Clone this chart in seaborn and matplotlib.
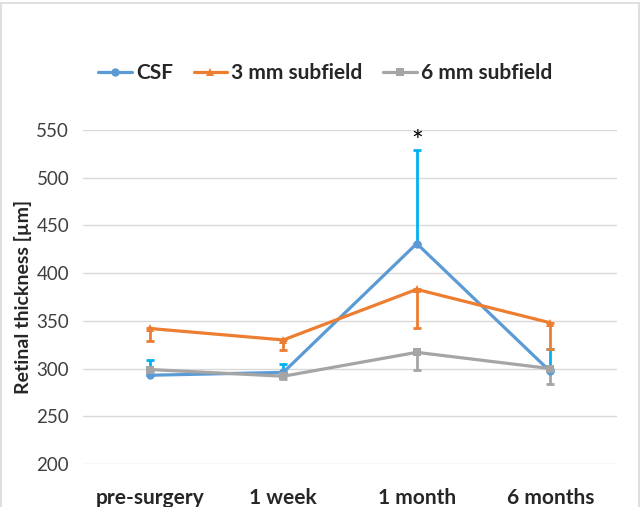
import numpy as np
import pandas as pd
import matplotlib
matplotlib.use("Agg")
import matplotlib.pyplot as plt
import seaborn as sns
from matplotlib.patches import Rectangle

# data
timepoints = ["pre-surgery", "1 week", "1 month", "6 months"]
csf = [293, 296, 431, 297]
mm3 = [342, 330, 383, 348]
mm6 = [299, 292, 317, 300]
csf_err_up = [16, 9, 98, 24]
mm3_err_down = [13, 11, 41, 28]
mm6_err_down = [3, 3, 19, 16]

series = ["CSF", "3 mm subfield", "6 mm subfield"]
colors = {"CSF": "#5B9BD5", "3 mm subfield": "#ED7D31", "6 mm subfield": "#A5A5A5"}
err_colors = {"CSF": "#00B0F0", "3 mm subfield": "#ED7D31", "6 mm subfield": "#A5A5A5"}
markers = {"CSF": "o", "3 mm subfield": "^", "6 mm subfield": "s"}

df = pd.DataFrame({
    "time": timepoints * 3,
    "thickness": csf + mm3 + mm6,
    "series": np.repeat(series, len(timepoints)),
})

sns.set_theme(style="white")
plt.rcParams['font.family'] = ['Lato', 'DejaVu Sans']

fig = plt.figure(figsize=(6.44, 5.07), dpi=100)
ax = fig.add_axes([0.129, 0.0848, 0.829, 0.6588])

# error bars first so lines sit on top
x = np.arange(len(timepoints))
ax.errorbar(x, csf, yerr=[np.zeros(4), csf_err_up], fmt="none",
            ecolor=err_colors["CSF"], elinewidth=2, capsize=3, capthick=2, zorder=2)
ax.errorbar(x, mm3, yerr=[mm3_err_down, np.zeros(4)], fmt="none",
            ecolor=err_colors["3 mm subfield"], elinewidth=2, capsize=3, capthick=2, zorder=2)
ax.errorbar(x, mm6, yerr=[mm6_err_down, np.zeros(4)], fmt="none",
            ecolor=err_colors["6 mm subfield"], elinewidth=2, capsize=3, capthick=2, zorder=2)

sns.lineplot(data=df, x="time", y="thickness", hue="series", style="series",
             palette=colors, markers=markers, dashes=False, linewidth=2.3,
             markersize=6, markeredgewidth=0, sort=False, ax=ax, zorder=3)

ax.text(2, 536, "*", ha="center", va="center", fontsize=20, color="black")

ax.set_ylim(200, 550)
ax.set_xlim(-0.5, 3.5)
ax.set_yticks(range(200, 551, 50))
ax.yaxis.grid(True, color="#D9D9D9", linewidth=1)
ax.set_axisbelow(True)
for s in ax.spines.values():
    s.set_visible(False)
ax.tick_params(axis="both", length=0)
ax.tick_params(axis="y", labelsize=13.5, pad=10, labelcolor="#404040")
ax.tick_params(axis="x", pad=17)
for lbl in ax.get_xticklabels():
    lbl.set_fontsize(15)
    lbl.set_fontweight("bold")
ax.set_xlabel("")
ax.set_ylabel("Retinal thickness [µm]", fontsize=14, fontweight="bold", labelpad=3)

handles, labels = ax.get_legend_handles_labels()
ax.legend_.remove()
fig.legend(handles, labels, loc="center", bbox_to_anchor=(0.505, 0.856), ncol=3,
           frameon=False, handlelength=1.6, handletextpad=0.2, columnspacing=1.0,
           prop={"weight": "bold", "size": 15})

fig.patches.append(Rectangle((0.002, -0.01), 0.99, 1.005, transform=fig.transFigure,
                             fill=False, edgecolor="#D9D9D9", linewidth=1.2))

fig.savefig("out.png", dpi=100)
